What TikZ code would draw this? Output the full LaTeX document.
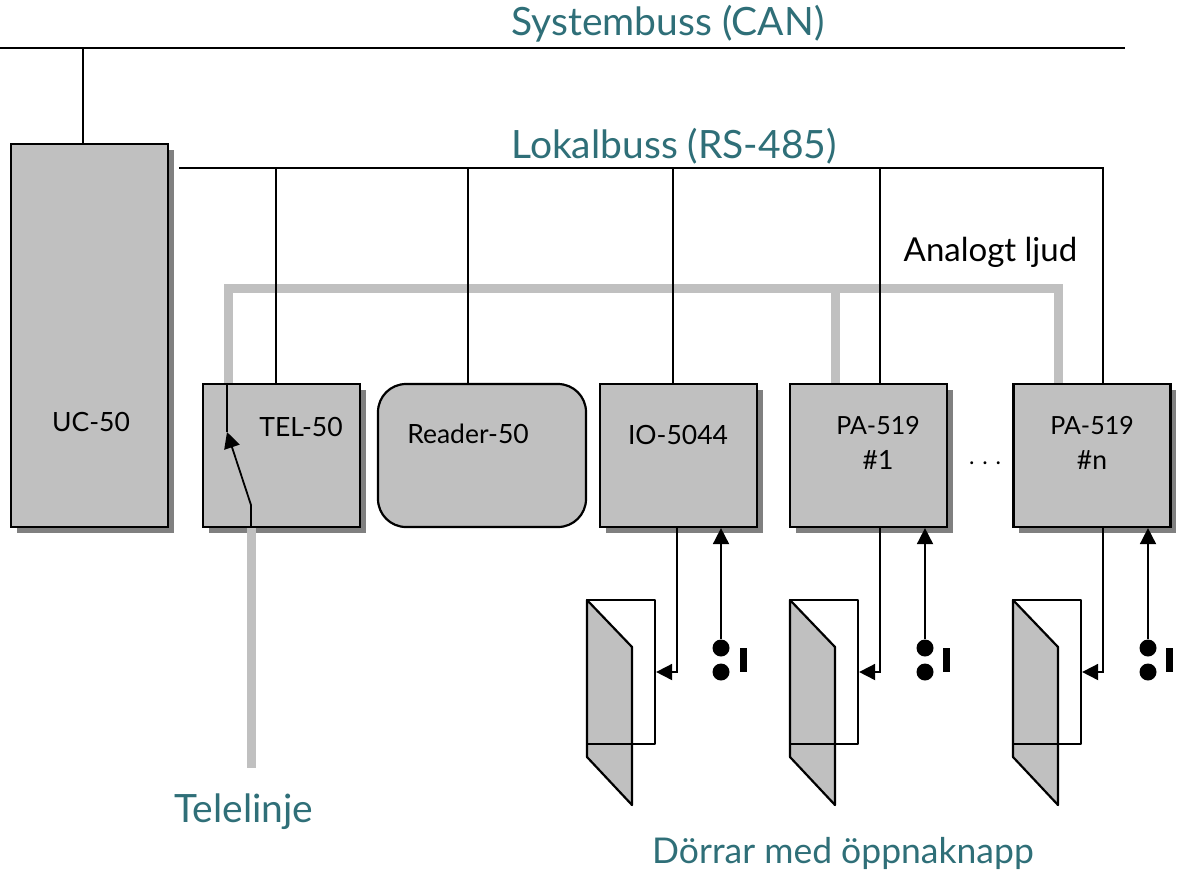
\documentclass[tikz,border=0pt]{standalone}
\usepackage{fontspec}
\setmainfont{Lato}
\usetikzlibrary{arrows.meta,shadows}
\definecolor{busteal}{HTML}{2F6F78}
\definecolor{boxgray}{HTML}{C0C0C0}
\definecolor{shadowgray}{HTML}{808080}

\begin{document}
\begin{tikzpicture}[x=1pt,y=-1pt,line width=1.8pt]
\tikzstyle{unit}=[draw,fill=boxgray,line width=2.2pt,minimum height=143,inner sep=0,
  general shadow={shadow xshift=5.5pt,shadow yshift=-5.5pt,fill=shadowgray}]
\tikzstyle{bustext}=[text=busteal,inner sep=0,font=\fontsize{39}{42}\selectfont]
\tikzstyle{label}=[font=\fontsize{26.5}{30}\selectfont]
\tikzstyle{audio}=[draw=boxgray,line width=9pt]
\tikzstyle{tip}=[-{Triangle[length=16pt,width=16pt]}]
\tikzstyle{contact}=[circle,fill=black,minimum size=17,inner sep=0]
\tikzstyle{doorline}=[line width=2.2pt,line join=round]
\useasboundingbox (0,0) rectangle (1182,871);
% units
\node[unit,minimum width=157,minimum height=383] (uc) at (89.5,335.5) {};
\node[unit,minimum width=157] (tel) at (281.5,455.5) {};
\node[draw,fill=boxgray,line width=2.2pt,minimum width=208,minimum height=143,inner sep=0,rounded corners=28] (reader) at (482,455.5) {};
\node[unit,minimum width=157] (io) at (678.5,455.5) {};
\node[unit,minimum width=157] (paa) at (868.5,455.5) {};
\node[unit,minimum width=157] (pan) at (1092,455.5) {};
\node[label] (uclabel) at (91,422) {UC-50};
\node[label] (tellabel) at (301,427) {TEL-50};
\node[label] (readerlabel) at (468,434) {Reader-50};
\node[label] (iolabel) at (678,435) {IO-5044};
\node[label,font=\fontsize{25}{30}\selectfont] (paalabel) at (878,426) {PA-519};
\node[label] (paanum) at (878,460) {\#1};
\node[label,font=\fontsize{25}{30}\selectfont] (panlabel) at (1092,426) {PA-519};
\node[label] (pannum) at (1092,460) {\#n};
\node[label,font=\fontsize{23}{30}\selectfont] (dots) at (985,463) {. . .};
% busses
\coordinate (sysL) at (0,48);
\coordinate (sysR) at (1125,48);
\coordinate (sysuc) at (83,48);
\coordinate (locL) at (179,168);
\coordinate (loctel) at (276,168);
\coordinate (locreader) at (468,168);
\coordinate (locio) at (673,168);
\coordinate (locpaa) at (880,168);
\coordinate (locpan) at (1103,168);
\coordinate (audL) at (228,288);
\coordinate (audM) at (835,288);
\coordinate (audR) at (1058,288);
\coordinate (swtop) at (227,432);
\coordinate (swbot) at (251,505);
\coordinate (line) at (251,768);
\node[bustext] (sysbus) at (668,24) {Systembuss (CAN)};
\node[bustext] (locbus) at (674,146) {Lokalbuss (RS-485)};
\node[label,font=\fontsize{33}{36}\selectfont] (audio) at (990.5,252) {Analogt ljud};
\node[bustext] (tele) at (244,812) {Telelinje};
\node[bustext,font=\fontsize{35.5}{38}\selectfont] (doors) at (843,853) {Dörrar med öppnaknapp};
\draw[audio] (audL |- tel.north) -- (audL) -- (audR) -- (audR |- pan.north);
\draw[audio] (audM) -- (audM |- paa.north);
\draw[audio] (swbot |- tel.south) -- (line);
\draw (sysL) -- (sysR);
\draw (sysuc) -- (sysuc |- uc.north);
\draw (locL) -- (locpan) -- (locpan |- pan.north);
\draw (loctel) -- (loctel |- tel.north);
\draw (locreader) -- (locreader |- reader.north);
\draw (locio) -- (locio |- io.north);
\draw (locpaa) -- (locpaa |- paa.north);
% switch in TEL-50
\draw (swtop |- tel.north) -- (swtop);
\draw[tip] (swbot) -- (swtop);
\draw (swbot) -- (swbot |- tel.south);
% doors
\begin{scope}
\coordinate (bend) at (677,672);
\fill[boxgray] (587,600) -- (632,647) -- (632,805) -- (587,757) -- cycle;
\draw[doorline] (587,600) -- (632,647) -- (632,805) -- (587,757) -- cycle;
\node[draw,doorline,minimum width=68,minimum height=144,inner sep=0] (door) at (621,672) {};
\node[contact] (c1) at (721,648) {};
\node[contact] (c2) at (721,672) {};
\node[fill=black,minimum width=7,minimum height=24,inner sep=0] (bar) at (743.5,660) {};
\draw[tip] (bend |- io.south) -- (bend) -- (door.east);
\draw[tip] (c1) -- (c1 |- io.south);
\end{scope}
\begin{scope}[xshift=203]
\coordinate (bend) at (677,672);
\fill[boxgray] (587,600) -- (632,647) -- (632,805) -- (587,757) -- cycle;
\draw[doorline] (587,600) -- (632,647) -- (632,805) -- (587,757) -- cycle;
\node[draw,doorline,minimum width=68,minimum height=144,inner sep=0] (door) at (621,672) {};
\node[contact] (c1) at (722,648) {};
\node[contact] (c2) at (722,672) {};
\node[fill=black,minimum width=7,minimum height=24,inner sep=0] (bar) at (743.5,660) {};
\draw[tip] (bend |- paa.south) -- (bend) -- (door.east);
\draw[tip] (c1) -- (c1 |- paa.south);
\end{scope}
\begin{scope}[xshift=426]
\coordinate (bend) at (677,672);
\fill[boxgray] (587,600) -- (632,647) -- (632,805) -- (587,757) -- cycle;
\draw[doorline] (587,600) -- (632,647) -- (632,805) -- (587,757) -- cycle;
\node[draw,doorline,minimum width=68,minimum height=144,inner sep=0] (door) at (621,672) {};
\node[contact] (c1) at (722,648) {};
\node[contact] (c2) at (722,672) {};
\node[fill=black,minimum width=7,minimum height=24,inner sep=0] (bar) at (743.5,660) {};
\draw[tip] (bend |- pan.south) -- (bend) -- (door.east);
\draw[tip] (c1) -- (c1 |- pan.south);
\end{scope}
\end{tikzpicture}
\end{document}
